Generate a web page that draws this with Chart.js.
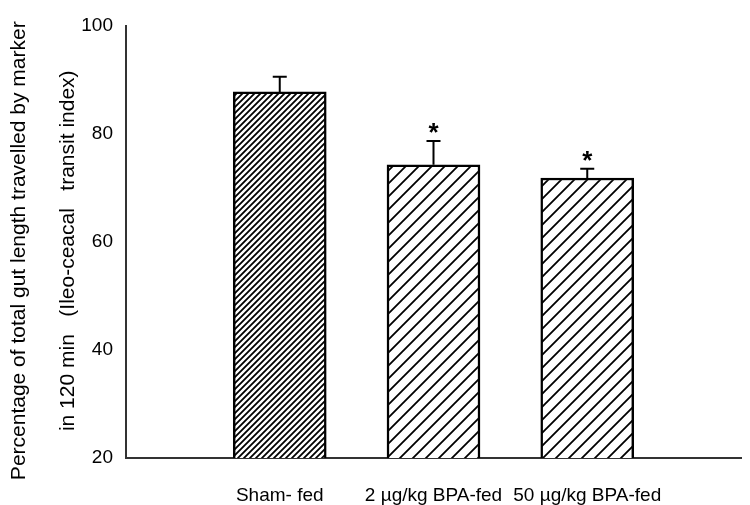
<!DOCTYPE html>
<html>
<head>
<meta charset="utf-8">
<script src="https://cdn.jsdelivr.net/npm/chart.js@4.4.0/dist/chart.umd.min.js"></script>
<style>
html,body{margin:0;padding:0;background:#fff;}
#wrap{width:750px;height:505px;}
</style>
</head>
<body>
<div id="wrap"><canvas id="c" width="750" height="505"></canvas></div>
<script>
const categories = ['', 'Sham- fed', '2 µg/kg BPA-fed', '50 µg/kg BPA-fed', ''];
const means = [null, 87.8, 74.3, 71.85, null];
const errors = [null, 2.8, 4.4, 1.7, null];
const significant = [false, false, true, true, false];
const yTicks = [20, 40, 60, 80, 100];
const yTitle = ['Percentage of total gut length travelled by marker   ', 'in 120 min   (Ileo-ceacal   transit index)   '];

function hatch(spacing, lw) {
  const size = spacing;
  const c = document.createElement('canvas');
  c.width = size; c.height = size;
  const g = c.getContext('2d');
  g.fillStyle = '#fff'; g.fillRect(0, 0, size, size);
  g.strokeStyle = '#000'; g.lineWidth = lw; g.lineCap = 'square';
  g.beginPath();
  for (let k = -1; k <= 1; k++) {
    g.moveTo(k * size - 1, size + 1);
    g.lineTo(k * size + size + 1, -1);
  }
  g.stroke();
  return document.getElementById('c').getContext('2d').createPattern(c, 'repeat');
}
const fills = [null, hatch(6, 1.8), hatch(13, 1.8), hatch(13, 1.8), null];

const errPlugin = {
  id: 'errbars',
  afterDatasetsDraw(chart) {
    const ctx = chart.ctx;
    const xs = chart.scales.x, ys = chart.scales.y;
    ctx.save();
    ctx.strokeStyle = '#000'; ctx.lineWidth = 2;
    for (let i = 0; i < means.length; i++) {
      if (means[i] == null) continue;
      const x = xs.getPixelForValue(i);
      const y0 = ys.getPixelForValue(means[i]);
      const y1 = ys.getPixelForValue(means[i] + errors[i]);
      ctx.beginPath();
      ctx.moveTo(x, y0); ctx.lineTo(x, y1);
      ctx.moveTo(x - 7, y1); ctx.lineTo(x + 7, y1);
      ctx.stroke();
      if (significant[i]) {
        ctx.fillStyle = '#000';
        ctx.font = 'bold 26px "Liberation Sans", Arial, sans-serif';
        ctx.textAlign = 'center'; ctx.textBaseline = 'middle';
        ctx.fillText('*', x, y1 - 7);
      }
    }
    ctx.restore();
  }
};

new Chart(document.getElementById('c'), {
  type: 'bar',
  data: {
    labels: categories,
    datasets: [{
      data: means,
      backgroundColor: fills,
      borderColor: '#000',
      borderWidth: 2.5,
      borderSkipped: 'bottom',
      barThickness: 93
    }]
  },
  options: {
    responsive: false,
    animation: false,
    layout: { padding: { left: 0, right: 9, top: 26, bottom: 0 } },
    plugins: { legend: { display: false }, tooltip: { enabled: false } },
    scales: {
      x: {
        offset: false,
        afterFit(axis) { axis.height = 47; axis.paddingLeft = 0; axis.paddingRight = 0; },
        grid: { display: false, drawTicks: false },
        border: { color: '#333', width: 2 },
        ticks: {
          color: '#000', autoSkip: false, maxRotation: 0, padding: 26,
          font: { family: '"Liberation Sans", Arial, sans-serif', size: 19 }
        }
      },
      y: {
        min: 20, max: 100,
        afterBuildTicks(axis) { axis.ticks = yTicks.map(v => ({ value: v })); },
        afterFit(axis) { axis.width = 126; axis.paddingTop = 0; axis.paddingBottom = 0; },
        grid: { display: false, drawOnChartArea: false, drawTicks: true, tickLength: 6, tickWidth: 2, tickColor: '#333' },
        border: { color: '#333', width: 2 },
        ticks: {
          color: '#000', padding: 7,
          font: { family: '"Liberation Sans", Arial, sans-serif', size: 19 }
        },
        title: {
          display: true,
          text: yTitle,
          color: '#000',
          padding: { top: -5, bottom: 0 },
          font: { family: '"Liberation Sans", Arial, sans-serif', size: 21, lineHeight: 2.33 }
        }
      }
    }
  },
  plugins: [errPlugin]
});
</script>
</body>
</html>
